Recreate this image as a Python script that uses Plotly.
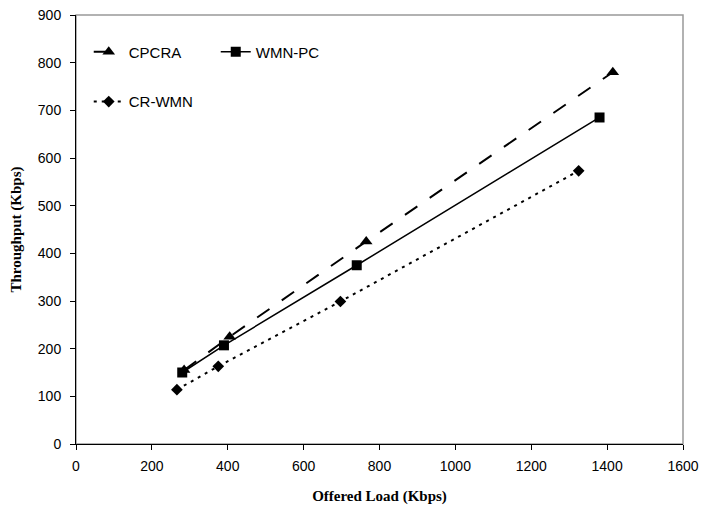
import plotly.graph_objects as go

x_cpcra = [285, 405, 765, 1415]
y_cpcra = [155, 225, 425, 780]
x_wmnpc = [280, 390, 740, 1380]
y_wmnpc = [150, 207, 375, 685]
x_crwmn = [266, 375, 697, 1325]
y_crwmn = [114, 163, 299, 573]

x_ticks = [0, 200, 400, 600, 800, 1000, 1200, 1400, 1600]
y_ticks = [0, 100, 200, 300, 400, 500, 600, 700, 800, 900]

fig = go.Figure()
fig.add_trace(go.Scatter(x=x_cpcra, y=y_cpcra, name="CPCRA", mode="lines+markers",
                         line=dict(color="black", width=2, dash="longdash"),
                         marker=dict(symbol="triangle-up", size=11, color="black"),
                         legend="legend"))
fig.add_trace(go.Scatter(x=x_wmnpc, y=y_wmnpc, name="WMN-PC", mode="lines+markers",
                         line=dict(color="black", width=1.5, dash="solid"),
                         marker=dict(symbol="square", size=10, color="black"),
                         legend="legend"))
fig.add_trace(go.Scatter(x=x_crwmn, y=y_crwmn, name="CR-WMN", mode="lines+markers",
                         line=dict(color="black", width=2, dash="3px,5px"),
                         marker=dict(symbol="diamond", size=9, color="black"),
                         legend="legend2"))

axis_font = dict(family="Liberation Serif, Times New Roman, serif", size=15, color="black")
tick_font = dict(family="Liberation Sans, Arial, sans-serif", size=14, color="black")
leg_font = dict(family="Liberation Sans, Arial, sans-serif", size=15, color="black")

fig.update_layout(
    width=702, height=508,
    margin=dict(l=76, r=19, t=15, b=64, autoexpand=False),
    paper_bgcolor="white", plot_bgcolor="white",
    xaxis=dict(range=[0, 1600], tickvals=x_ticks, showgrid=False, zeroline=False,
               showline=True, linecolor="black", linewidth=1, automargin=False,
               ticks="outside", ticklen=5, tickcolor="black", tickfont=tick_font,
               ticklabelstandoff=4, ticklabeloverflow="allow",
               title=dict(text="<b>Offered Load (Kbps)</b>", font=axis_font, standoff=17)),
    yaxis=dict(range=[0, 900], tickvals=y_ticks, showgrid=False, zeroline=False,
               showline=True, linecolor="black", linewidth=1, automargin=False,
               ticks="outside", ticklen=5, tickcolor="black", tickfont=tick_font,
               ticklabelstandoff=6, ticklabeloverflow="allow",
               title=dict(text="<b>Throughput (Kbps)</b>", font=axis_font, standoff=12)),
    legend=dict(orientation="h", x=0.021, y=0.952, xanchor="left", yanchor="top",
                font=leg_font, bgcolor="rgba(0,0,0,0)",
                entrywidth=82, entrywidthmode="pixels"),
    legend2=dict(orientation="h", x=0.021, y=0.836, xanchor="left", yanchor="top",
                 font=leg_font, bgcolor="rgba(0,0,0,0)"),
    shapes=[dict(type="rect", xref="x domain", yref="y domain", x0=0, y0=0, x1=1, y1=1,
                 line=dict(color="#999999", width=1.5), layer="below")],
)

fig.write_html(
    "out.html",
    config={"displayModeBar": False},
    post_script=("document.body.style.margin='0';"
                 "document.documentElement.style.overflow='hidden';"
                 "document.body.style.overflow='hidden';"),
)
